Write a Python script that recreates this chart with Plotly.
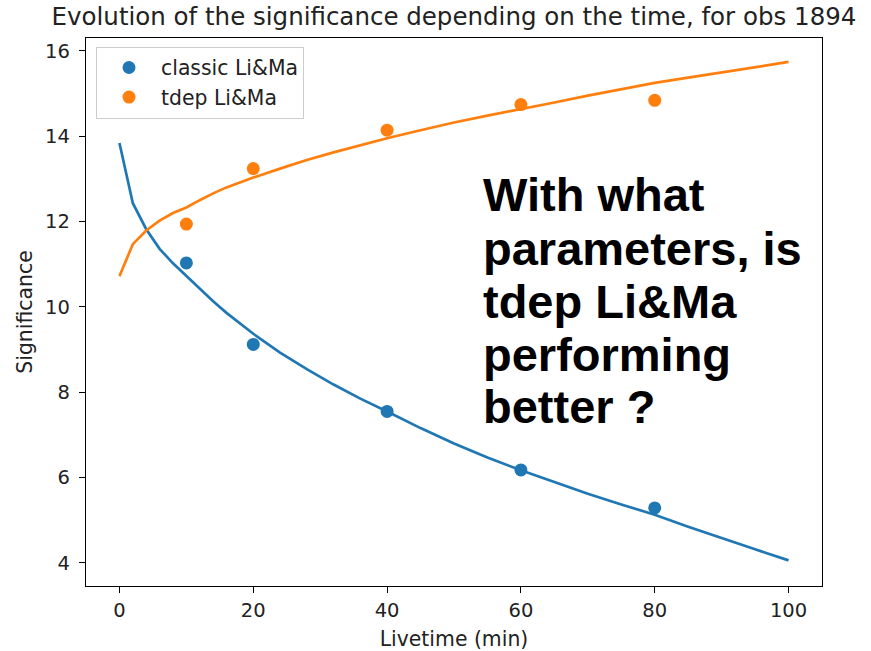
import plotly.graph_objects as go

# Measured significance at each livetime
livetime_obs = [10, 20, 40, 60, 80]
classic_obs = [11.03, 9.12, 7.55, 6.18, 5.29]
tdep_obs = [11.94, 13.24, 14.14, 14.74, 14.84]

# Fitted trend curves
livetime_fit = [0, 2, 4, 6, 8, 10, 12, 14, 16, 18, 20, 24, 28, 32, 36, 40, 45, 50, 55,
                60, 65, 70, 75, 80, 85, 90, 95, 100]
classic_fit = [13.84, 12.43, 11.82, 11.36, 11.02, 10.72, 10.42, 10.13, 9.86, 9.61, 9.37,
               8.93, 8.54, 8.18, 7.85, 7.55, 7.16, 6.80, 6.47, 6.17, 5.89, 5.62, 5.37,
               5.13, 4.85, 4.58, 4.32, 4.06]
tdep_fit = [10.72, 11.47, 11.79, 12.02, 12.20, 12.33, 12.50, 12.66, 12.80, 12.92, 13.03,
            13.24, 13.44, 13.62, 13.79, 13.95, 14.14, 14.32, 14.48, 14.63, 14.79, 14.95,
            15.10, 15.25, 15.37, 15.49, 15.62, 15.74]

x_ticks = [0, 20, 40, 60, 80, 100]
y_ticks = [4, 6, 8, 10, 12, 14, 16]

BLUE = "#1f77b4"
ORANGE = "#ff7f0e"
FONT = "DejaVu Sans"
TEXT = "#222222"

fig = go.Figure()
fig.add_trace(go.Scatter(x=livetime_obs, y=classic_obs, mode="markers",
                         marker=dict(color=BLUE, size=13),
                         name="classic Li&Ma"))
fig.add_trace(go.Scatter(x=livetime_obs, y=tdep_obs, mode="markers",
                         marker=dict(color=ORANGE, size=13),
                         name="tdep Li&Ma"))
fig.add_trace(go.Scatter(x=livetime_fit, y=classic_fit, mode="lines",
                         line=dict(color=BLUE, width=2.7), showlegend=False))
fig.add_trace(go.Scatter(x=livetime_fit, y=tdep_fit, mode="lines",
                         line=dict(color=ORANGE, width=2.7), showlegend=False))

# Question written over the right part of the plot, one annotation per line
question_lines = ["With what", "parameters, is", "tdep Li&Ma", "performing", "better ?"]
W, H = 871, 651
L, R, T, B = 86, 49, 38, 65
plot_w = W - L - R
plot_h = H - T - B
line_mid_px = [195, 248, 301, 354, 406]
for text, py in zip(question_lines, line_mid_px):
    fig.add_annotation(text="<b>" + text + "</b>", xref="paper", yref="paper",
                       x=(482 - L) / plot_w, y=(H - B - py) / plot_h,
                       xanchor="left", yanchor="middle", showarrow=False,
                       font=dict(family="Liberation Sans", size=47, color="black"),
                       borderpad=0)

axis_common = dict(showline=True, linecolor="black", linewidth=1.3, mirror=True,
                   ticks="outside", ticklen=6, tickwidth=1.3, tickcolor="black",
                   showgrid=False, zeroline=False, automargin=False,
                   tickfont=dict(family=FONT, size=19.5, color=TEXT))

fig.update_layout(
    width=W, height=H,
    margin=dict(l=L, r=R, t=T, b=B),
    paper_bgcolor="white", plot_bgcolor="white",
    font=dict(family=FONT, color=TEXT),
    title=dict(text="Evolution of the significance depending on the time, for obs 1894",
               x=0.5, xref="paper", xanchor="center",
               y=1 - 16 / H, yref="container", yanchor="middle",
               font=dict(family=FONT, size=24.5, color=TEXT)),
    xaxis=dict(range=[-5, 105], tickvals=x_ticks,
               title=dict(text="Livetime (min)", font=dict(family=FONT, size=20.4), standoff=12),
               **axis_common),
    yaxis=dict(range=[3.46, 16.3], tickvals=y_ticks, ticklabelstandoff=5,
               title=dict(text="Significance", font=dict(family=FONT, size=20.4), standoff=6),
               **axis_common),
    legend=dict(x=(96 - L) / plot_w, y=0.984, xanchor="left", yanchor="top",
                bgcolor="white", bordercolor="#cccccc", borderwidth=1,
                font=dict(family=FONT, size=20.4, color=TEXT),
                itemwidth=54),
    showlegend=True,
)

fig.write_html("out.html")
